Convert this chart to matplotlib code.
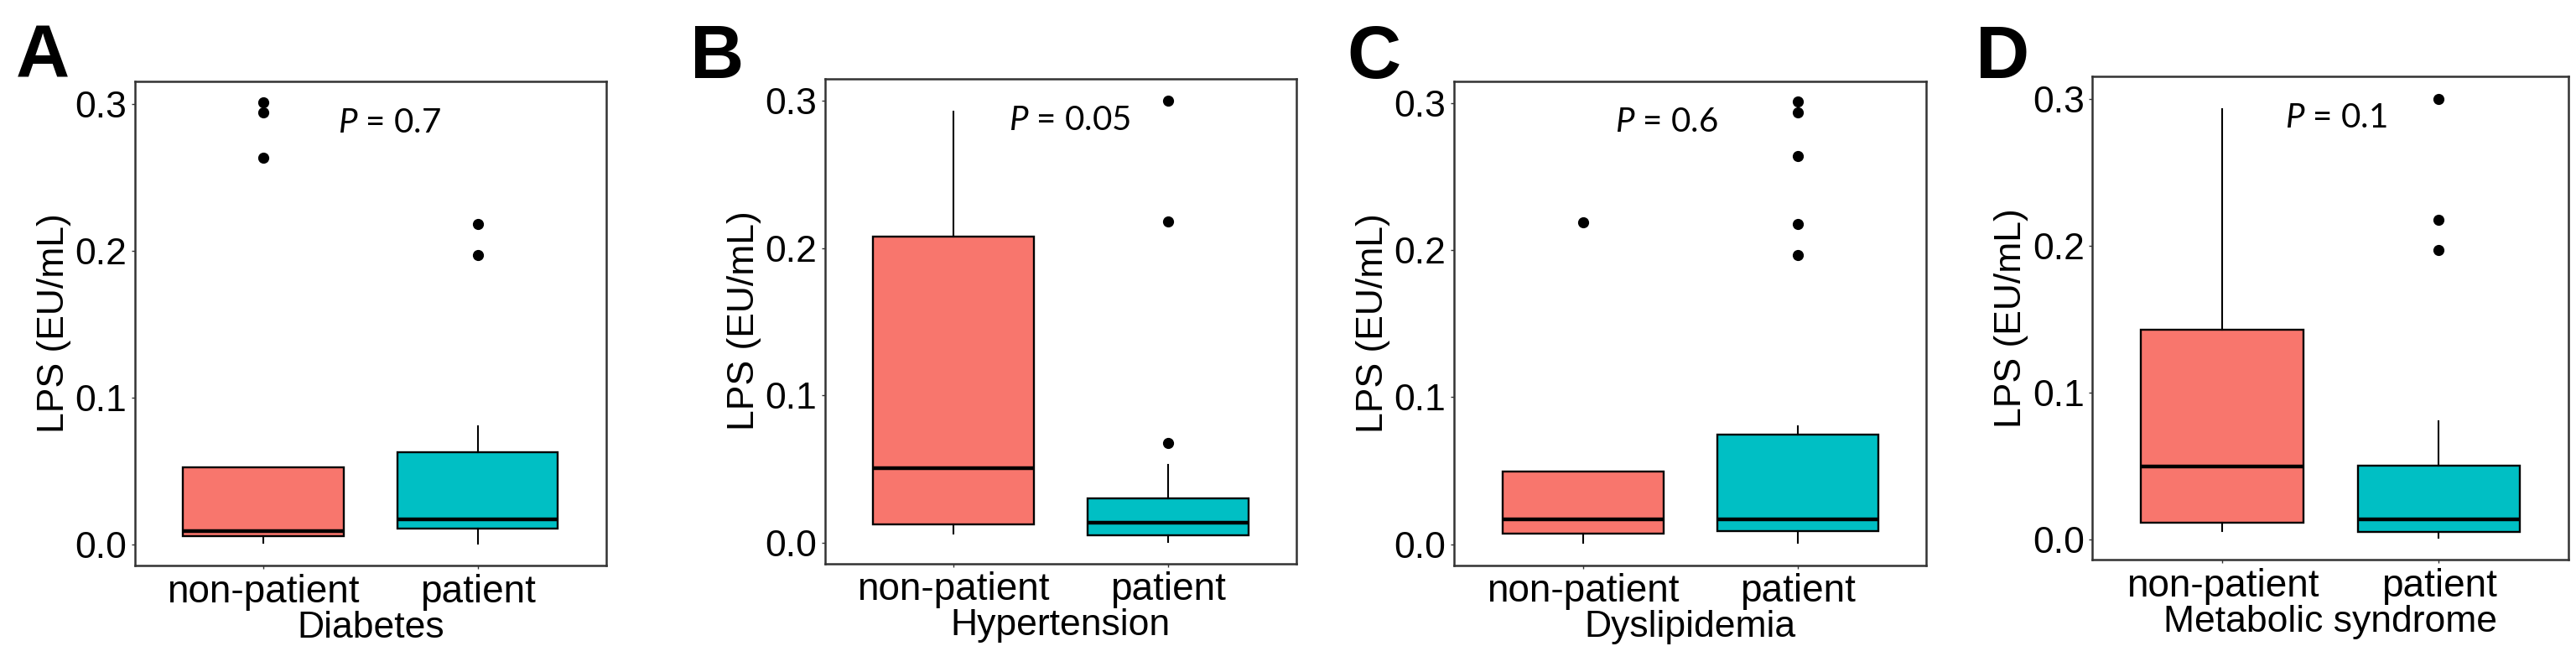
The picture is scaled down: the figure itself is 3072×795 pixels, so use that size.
import matplotlib
matplotlib.use('Agg')
import matplotlib.pyplot as plt

plt.rcParams['font.family'] = ['Liberation Sans', 'DejaVu Sans']
plt.rcParams['mathtext.fontset'] = 'custom'
plt.rcParams['mathtext.it'] = 'Lato:italic'
plt.rcParams['mathtext.rm'] = 'Lato'

# groups and panels
groups = ['non-patient', 'patient']
conditions = ['Diabetes', 'Hypertension', 'Dyslipidemia', 'Metabolic syndrome']
panel_letters = ['A', 'B', 'C', 'D']
p_values = ['0.7', '0.05', '0.6', '0.1']

# box statistics per panel: [non-patient, patient]
q1 = [[0.0057, 0.0108], [0.0125, 0.0051], [0.0071, 0.0088], [0.0114, 0.0048]]
median = [[0.0094, 0.0171], [0.0504, 0.0134], [0.0168, 0.0168], [0.0495, 0.0134]]
q3 = [[0.0527, 0.0627], [0.2078, 0.0299], [0.0496, 0.0744], [0.1429, 0.0498]]
whisker_low = [[0.0010, 0.0006], [0.0063, 0.0006], [0.0010, 0.0010], [0.0054, 0.0010]]
whisker_high = [[0.0527, 0.0803], [0.2930, 0.0527], [0.0496, 0.0804], [0.2929, 0.0803]]
outliers = [
    [[0.301, 0.294, 0.2635], [0.218, 0.197]],
    [[], [0.3003, 0.2178, 0.0677]],
    [[0.219], [0.301, 0.294, 0.264, 0.218, 0.197]],
    [[], [0.300, 0.2175, 0.1967]],
]

colors = ['#F8766D', '#00BFC4']

# axes placement (figure fractions) and text spots
axes_rects = [
    [0.0524, 0.1522, 0.1829, 0.7258],
    [0.3202, 0.1553, 0.1831, 0.7270],
    [0.5645, 0.1528, 0.1833, 0.7258],
    [0.8123, 0.1604, 0.1849, 0.7252],
]
letter_x = [0.006, 0.268, 0.523, 0.767]
p_text_x = [1.59, 1.544, 1.389, 1.525]

fig = plt.figure(figsize=(30.72, 7.95), dpi=100)

for i in range(4):
    ax = fig.add_axes(axes_rects[i])
    stats = []
    for j in range(2):
        stats.append(dict(med=median[i][j], q1=q1[i][j], q3=q3[i][j],
                          whislo=whisker_low[i][j], whishi=whisker_high[i][j],
                          fliers=outliers[i][j]))
    bp = ax.bxp(stats, positions=[1, 2], widths=0.75, patch_artist=True,
                showcaps=False,
                boxprops=dict(linewidth=1.7, edgecolor='black'),
                whiskerprops=dict(linewidth=1.5, color='black'),
                medianprops=dict(linewidth=3.2, color='black'),
                flierprops=dict(marker='o', markersize=8.5, markerfacecolor='black',
                                markeredgecolor='black'))
    for patch, c in zip(bp['boxes'], colors):
        patch.set_facecolor(c)

    ax.set_xlim(0.4, 2.6)
    ax.set_ylim(-0.0142, 0.3152)
    ax.set_yticks([0.0, 0.1, 0.2, 0.3])
    ax.set_yticklabels(['0.0', '0.1', '0.2', '0.3'])
    ax.set_xticks([1, 2])
    ax.set_xticklabels(groups, fontsize=33)
    ax.tick_params(axis='y', labelsize=32, length=3, width=1, color='#333333', pad=4)
    ax.tick_params(axis='x', length=3, width=1, color='#333333', pad=4)
    for s in ax.spines.values():
        s.set_linewidth(1.8)
        s.set_color('#333333')

    ax.set_ylabel('LPS (EU/mL)', fontsize=32)
    ax.yaxis.set_label_coords(-0.135, 0.5)
    ax.set_xlabel(conditions[i], fontsize=32, labelpad=0)

    ax.text(p_text_x[i], 0.287, r'$\mathit{P}$ = ' + p_values[i],
            fontsize=29, family='Lato', ha='center', va='center')

    fig.text(letter_x[i], 0.965, panel_letters[i], fontsize=64,
             fontweight='bold', family='Liberation Sans', ha='left', va='top')

fig.savefig('out.png', dpi=100)
